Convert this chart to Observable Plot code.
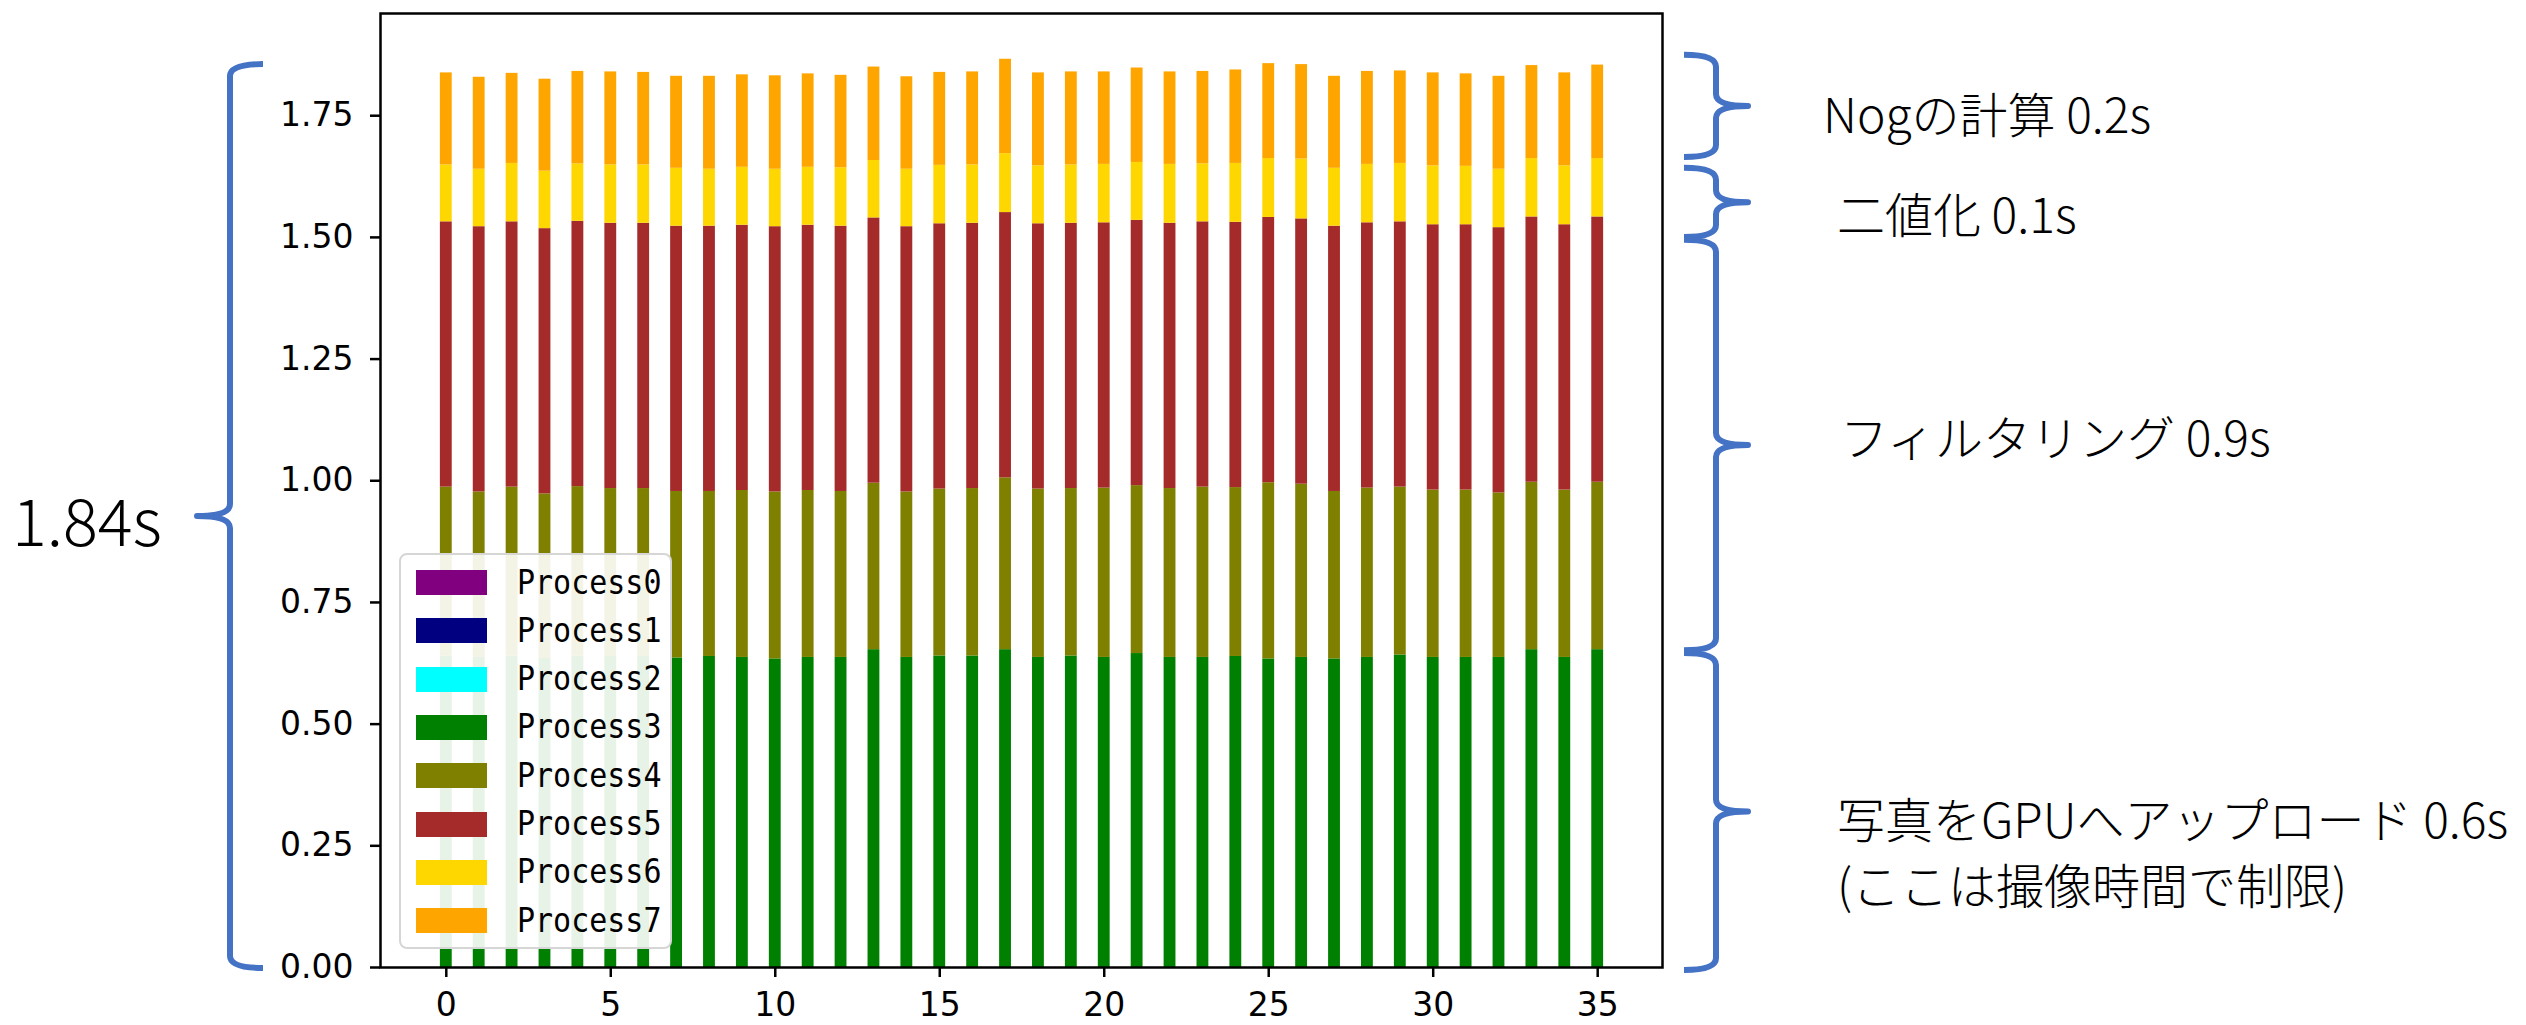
<!DOCTYPE html>
<html>
<head>
<meta charset="utf-8">
<script src="https://cdn.jsdelivr.net/npm/d3@7"></script>
<script src="https://cdn.jsdelivr.net/npm/@observablehq/plot@0.6"></script>
<style>
  html, body { margin: 0; padding: 0; background: #fff; }
  #wrap { position: relative; width: 2526px; height: 1025px; overflow: hidden; background: #fff; }
  #legend { position: absolute; left: 399px; top: 553px; width: 269px; height: 392px;
            border: 2px solid #d6d6d6; border-radius: 8px; background: rgba(255,255,255,0.9); box-sizing: content-box; }
  .row { position: absolute; left: 0; height: 25px; }
  .sw { position: absolute; left: 15px; top: 0; width: 71px; height: 25px; }
  .lb { position: absolute; left: 116px; top: 50%; transform: translateY(-50%) scaleY(1.12); transform-origin: left center;
        white-space: nowrap; font-family: 'DejaVu Sans Mono', monospace; font-size: 30px; line-height: 1; color: #000; }
</style>
</head>
<body>
<div id="wrap"></div>
<script>
// ---- data ----
const runs = [0,1,2,3,4,5,6,7,8,9,10,11,12,13,14,15,16,17,18,19,20,21,22,23,24,25,26,27,28,29,30,31,32,33,34,35];
const processes = ["Process0","Process1","Process2","Process3","Process4","Process5","Process6","Process7"];
const processColors = ["#800080","#000080","#00ffff","#008000","#808000","#a52a2a","#ffd700","#ffa500"];

const process0 = [0,0,0,0,0,0,0,0,0,0,0,0,0,0,0,0,0,0,0,0,0,0,0,0,0,0,0,0,0,0,0,0,0,0,0,0];
const process1 = [0,0,0,0,0,0,0,0,0,0,0,0,0,0,0,0,0,0,0,0,0,0,0,0,0,0,0,0,0,0,0,0,0,0,0,0];
const process2 = [0,0,0,0,0,0,0,0,0,0,0,0,0,0,0,0,0,0,0,0,0,0,0,0,0,0,0,0,0,0,0,0,0,0,0,0];
const process3 = [0.640,0.637,0.640,0.635,0.640,0.639,0.639,0.636,0.639,0.637,0.634,0.637,0.637,0.653,0.637,0.640,0.640,0.653,
                  0.637,0.640,0.637,0.645,0.637,0.637,0.639,0.634,0.637,0.634,0.637,0.642,0.637,0.637,0.637,0.653,0.637,0.653];
const process4 = [0.347,0.340,0.347,0.338,0.348,0.345,0.345,0.342,0.339,0.343,0.343,0.343,0.341,0.342,0.340,0.343,0.344,0.353,
                  0.346,0.344,0.348,0.345,0.347,0.350,0.347,0.362,0.356,0.344,0.348,0.345,0.344,0.344,0.338,0.344,0.344,0.344];
const process5 = [0.545,0.545,0.545,0.545,0.545,0.545,0.545,0.545,0.545,0.545,0.545,0.545,0.545,0.545,0.545,0.545,0.545,0.545,
                  0.545,0.545,0.545,0.545,0.545,0.545,0.545,0.545,0.545,0.545,0.545,0.545,0.545,0.545,0.545,0.545,0.545,0.545];
const process6 = [0.117,0.118,0.120,0.118,0.118,0.120,0.120,0.119,0.117,0.119,0.118,0.119,0.120,0.118,0.118,0.120,0.120,0.121,
                  0.119,0.120,0.120,0.119,0.121,0.119,0.121,0.121,0.123,0.119,0.120,0.120,0.121,0.120,0.120,0.120,0.121,0.120];
const process7 = [0.189,0.189,0.185,0.189,0.190,0.191,0.190,0.189,0.191,0.190,0.192,0.192,0.190,0.192,0.190,0.191,0.191,0.194,
                  0.191,0.191,0.190,0.194,0.190,0.190,0.192,0.195,0.194,0.189,0.191,0.190,0.191,0.190,0.191,0.191,0.191,0.192];

const xTicks = [0,5,10,15,20,25,30,35];
const yTicks = [0,0.25,0.5,0.75,1.0,1.25,1.5,1.75];

// annotation text
const stageLabels = [["Nogの計算 0.2s"], ["二値化 0.1s"], ["フィルタリング 0.9s"], ["写真をGPUへアップロード 0.6s", "(ここは撮像時間で制限)"]];
const stageRanges = [[1.874, 1.664], [1.642, 1.500], [1.494, 0.651], [0.645, -0.006]];
const totalLabel = "1.84s";
const totalRange = [1.855, -0.002];

// ---- build stacked rows ----
const series = [process0, process1, process2, process3, process4, process5, process6, process7];
const rows = [];
runs.forEach((r, i) => {
  let acc = 0;
  series.forEach((s, k) => {
    const v = s[i];
    if (v > 0) rows.push({run: r, process: processes[k], y1: acc, y2: acc + v});
    acc += v;
  });
});

const half = 0.18;
const plot = Plot.plot({
  width: 2526, height: 1025,
  marginLeft: 380, marginRight: 864, marginTop: 13, marginBottom: 58,
  style: {fontFamily: "'DejaVu Sans', sans-serif", fontSize: "33px", background: "white", color: "black"},
  x: {domain: [-2, 36.97]},
  y: {domain: [0, 1.96]},
  color: {domain: processes, range: processColors},
  marks: [
    Plot.rect(rows, {x1: d => d.run - half, x2: d => d.run + half, y1: "y1", y2: "y2", fill: "process"}),
    Plot.axisX({ticks: xTicks, tickSize: 10, tickPadding: 15, strokeWidth: 2.5, label: null, fontSize: 33}),
    Plot.axisY({ticks: yTicks, tickFormat: d3.format(".2f"), tickSize: 10, tickPadding: 17, strokeWidth: 2.5, label: null, fontSize: 33}),
    Plot.frame({stroke: "black", strokeWidth: 2.5})
  ]
});

document.getElementById("wrap").appendChild(plot);

// ---- annotations (braces + texts), positioned with the y scale ----
const ys = plot.scale("y");
const svg = d3.select(plot);
const g = svg.append("g").attr("class", "annotations").attr("text-anchor", "start");
const blue = "#4472c4";

function bracePath(xa, xs, xt, y1, y2, r) {
  const ym = (y1 + y2) / 2;
  return `M${xa},${y1} Q${xs},${y1} ${xs},${y1 + r} L${xs},${ym - r} Q${xs},${ym} ${xt},${ym} ` +
         `Q${xs},${ym} ${xs},${ym + r} L${xs},${y2 - r} Q${xs},${y2} ${xa},${y2}`;
}

const textX = [1823, 1837, 1840, 1837];
const textDy = [6, 10, -10, 6];
stageRanges.forEach(([a, b], k) => {
  const y1 = ys.apply(a), y2 = ys.apply(b);
  const r = Math.min(12, (y2 - y1) / 4);
  g.append("path").attr("d", bracePath(1684, 1716, 1748, y1, y2, r))
    .attr("fill", "none").attr("stroke", blue).attr("stroke-width", 6).attr("stroke-linejoin", "round");
  const ym = (y1 + y2) / 2;
  stageLabels[k].forEach((line, j) => {
    g.append("text").attr("x", textX[k]).attr("y", ym + textDy[k] + j * 66)
      .attr("text-anchor", "start")
      .attr("dominant-baseline", "central")
      .attr("font-family", "'Noto Sans CJK JP', sans-serif").attr("font-weight", 300)
      .attr("font-size", 48).attr("fill", "#000").text(line);
  });
});

{
  const y1 = ys.apply(totalRange[0]), y2 = ys.apply(totalRange[1]);
  g.append("path").attr("d", bracePath(263, 230, 197, y1, y2, 12))
    .attr("fill", "none").attr("stroke", blue).attr("stroke-width", 6).attr("stroke-linejoin", "round");
  g.append("text").attr("x", 12).attr("y", (y1 + y2) / 2 + 2)
    .attr("text-anchor", "start")
    .attr("dominant-baseline", "central")
    .attr("font-family", "'Noto Sans CJK JP', sans-serif").attr("font-weight", 300)
    .attr("font-size", 65).attr("fill", "#000").text(totalLabel);
}

// ---- legend (inside the plot, lower left) ----
const legend = document.createElement("div");
legend.id = "legend";
processes.forEach((p, k) => {
  const row = document.createElement("div");
  row.className = "row";
  row.style.top = (15 + k * 48.3) + "px";
  row.style.width = "100%";
  const sw = document.createElement("div");
  sw.className = "sw";
  sw.style.background = processColors[k];
  const lb = document.createElement("div");
  lb.className = "lb";
  lb.textContent = p;
  row.appendChild(sw); row.appendChild(lb);
  legend.appendChild(row);
});
document.getElementById("wrap").appendChild(legend);
</script>
</body>
</html>
